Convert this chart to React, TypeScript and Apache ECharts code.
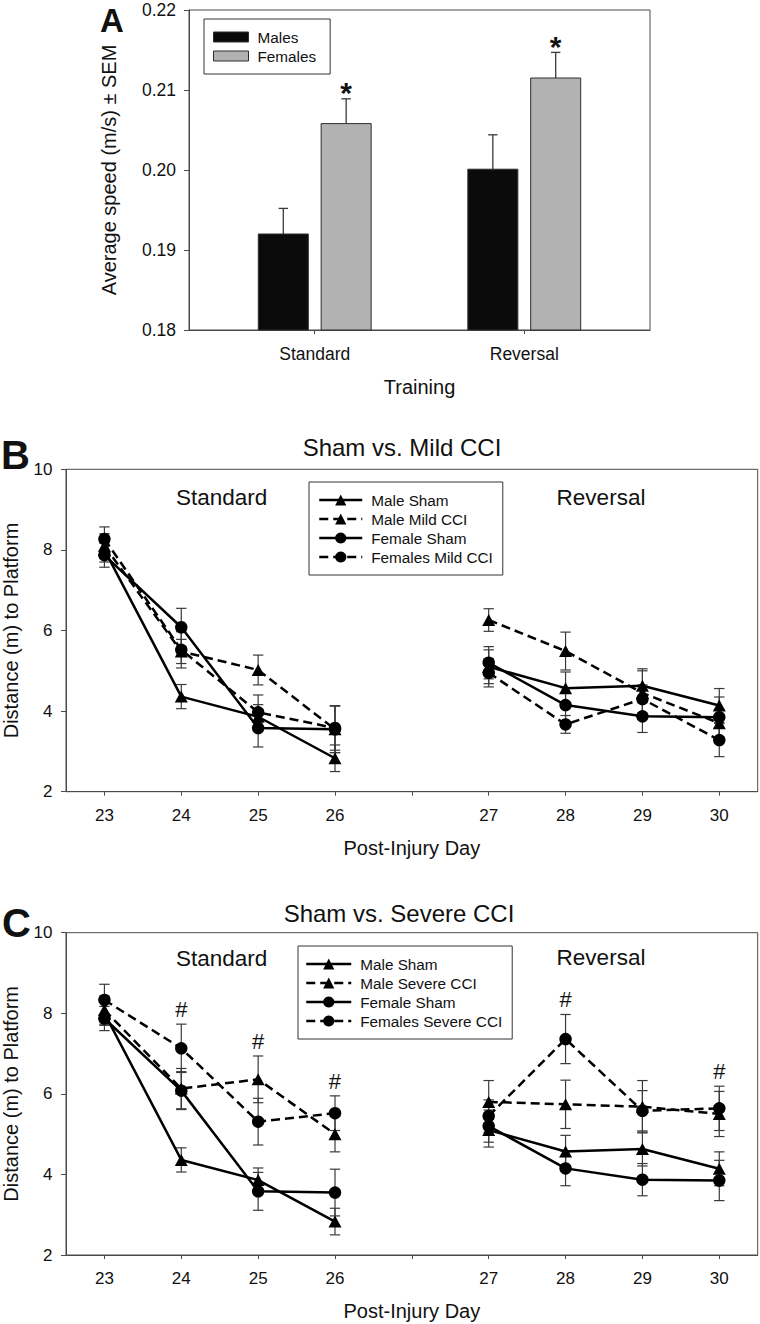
import React, { useEffect, useRef } from 'react';
import * as echarts from 'echarts';

// ---------- Panel A: average swim speed ----------
const TRAINING = ['Standard', 'Reversal'];
const MALE_SPEED = [0.192, 0.2001];
const MALE_SPEED_SEM = [0.0032, 0.0043];
const FEMALE_SPEED = [0.2058, 0.2115];
const FEMALE_SPEED_SEM = [0.0031, 0.0032];
const FEMALE_SIG = [1, 1]; // asterisk above female bars
const SPEED_MIN = 0.18;
const SPEED_MAX = 0.22;
const SPEED_STEP = 0.01;

// ---------- Panels B & C: distance to platform ----------
const DAYS = ['23', '24', '25', '26', '', '27', '28', '29', '30'];
const MALE_SHAM = [8.0, 4.36, 3.86, 2.83, null, 5.1, 4.57, 4.63, 4.14];
const MALE_SHAM_SEM = [0.3, 0.3, 0.3, 0.33, null, 0.42, 0.4, 0.42, 0.42];
const FEMALE_SHAM = [7.87, 6.08, 3.58, 3.55, null, 5.2, 4.15, 3.87, 3.85];
const FEMALE_SHAM_SEM = [0.3, 0.47, 0.47, 0.58, null, 0.4, 0.43, 0.4, 0.5];
const MALE_MILD = [8.1, 5.48, 5.02, 3.55, null, 6.26, 5.49, 4.45, 3.7];
const MALE_MILD_SEM = [0.3, 0.3, 0.37, 0.58, null, 0.28, 0.47, 0.55, 0.35];
const FEMALE_MILD = [8.27, 5.52, 3.97, 3.58, null, 4.95, 3.67, 4.3, 3.28];
const FEMALE_MILD_SEM = [0.3, 0.45, 0.43, 0.55, null, 0.35, 0.22, 0.35, 0.41];
const MALE_SEVERE = [8.08, 6.13, 6.36, 5.0, null, 5.8, 5.74, 5.68, 5.5];
const MALE_SEVERE_SEM = [0.35, 0.5, 0.58, 0.44, null, 0.53, 0.6, 0.65, 0.56];
const FEMALE_SEVERE = [8.33, 7.13, 5.31, 5.52, null, 5.45, 7.36, 5.58, 5.64];
const FEMALE_SEVERE_SEM = [0.39, 0.6, 0.58, 0.43, null, 0.4, 0.61, 0.5, 0.55];
const SEVERE_SIG_DAYS = ['24', '25', '26', '28', '30'];
const DIST_MIN = 2;
const DIST_MAX = 10;
const DIST_STEP = 2;

// ---------- styling ----------
const FONT = "'Liberation Sans', Arial, Helvetica, sans-serif";
const INK = '#111111';
const AXIS_C = '#4a4a4a';
const ERR_C = '#3a3a3a';
const MALE_FILL = '#0b0b0b';
const FEMALE_FILL = '#b2b2b2';
const BAR_EDGE = '#2e2e2e';
const BAR_W = 0.2387; // in x-axis units
const BAR_OFF = 0.15;
const DASH = [9, 5];

function txt(text: string, x: number, y: number, size: number, weight = 'normal', align = 'center') {
  return {
    type: 'text',
    silent: true,
    style: {
      text, x, y,
      fill: INK,
      fontSize: size,
      fontWeight: weight,
      fontFamily: FONT,
      font: `${weight} ${size}px ${FONT}`,
      align, textAlign: align,
      verticalAlign: 'middle', textVerticalAlign: 'middle',
    },
  };
}

function barRender(off: number, fill: string) {
  return (params: any, api: any) => {
    const x = api.value(0) + off;
    const v = api.value(1);
    const e = api.value(2);
    const sig = api.value(3);
    const base = api.coord([x, SPEED_MIN]);
    const top = api.coord([x, v]);
    const et = api.coord([x, v + e]);
    const half = api.size([BAR_W, 0])[0] / 2;
    const children: any[] = [
      { type: 'line', shape: { x1: top[0], y1: top[1], x2: top[0], y2: et[1] }, style: { stroke: ERR_C, lineWidth: 1.3 } },
      { type: 'line', shape: { x1: top[0] - 4.7, y1: et[1], x2: top[0] + 4.7, y2: et[1] }, style: { stroke: ERR_C, lineWidth: 1.3 } },
      { type: 'rect', shape: { x: top[0] - half, y: top[1], width: half * 2, height: base[1] - top[1] }, style: { fill, stroke: BAR_EDGE, lineWidth: 1 } },
    ];
    if (sig) {
      children.push({
        type: 'text',
        style: {
          text: '*', x: top[0], y: et[1] - 6,
          fill: INK, font: `bold 30px ${FONT}`, fontSize: 30, fontWeight: 'bold', fontFamily: FONT,
          align: 'center', textAlign: 'center', verticalAlign: 'middle', textVerticalAlign: 'middle',
        },
      });
    }
    return { type: 'group', children };
  };
}

function errRender(params: any, api: any) {
  const i = api.value(0);
  const m = api.value(1);
  const e = api.value(2);
  const hi = api.coord([i, m + e]);
  const lo = api.coord([i, m - e]);
  const x = hi[0];
  const c = 5.2;
  const st = { stroke: ERR_C, lineWidth: 1.2 };
  return {
    type: 'group',
    children: [
      { type: 'line', shape: { x1: x, y1: hi[1], x2: x, y2: lo[1] }, style: st },
      { type: 'line', shape: { x1: x - c, y1: hi[1], x2: x + c, y2: hi[1] }, style: st },
      { type: 'line', shape: { x1: x - c, y1: lo[1], x2: x + c, y2: lo[1] }, style: st },
    ],
  };
}

function errData(pairs: [ (number | null)[], (number | null)[] ][]) {
  const out: number[][] = [];
  pairs.forEach(([m, s]) => {
    m.forEach((v, i) => {
      if (v != null && s[i] != null) out.push([i, v, s[i] as number]);
    });
  });
  return out;
}

function lineSeries(name: string, data: (number | null)[], symbol: string, dashed: boolean, g: number) {
  return {
    type: 'line',
    name,
    xAxisIndex: g,
    yAxisIndex: g,
    data,
    symbol,
    symbolSize: symbol === 'triangle' ? [13, 12] : 12.5,
    connectNulls: false,
    z: 3,
    itemStyle: { color: '#000' },
    lineStyle: { color: '#000', width: 2.5, type: dashed ? DASH : 'solid' },
    emphasis: { disabled: true },
  };
}

function distX(g: number) {
  return {
    gridIndex: g,
    type: 'category',
    data: DAYS,
    boundaryGap: true,
    axisLine: { show: true, lineStyle: { color: AXIS_C, width: 1 } },
    axisTick: { show: true, alignWithLabel: true, interval: 0, length: 4, lineStyle: { color: AXIS_C } },
    axisLabel: { interval: 0, color: INK, fontFamily: FONT, fontSize: 17, margin: 15 },
    splitLine: { show: false },
    name: 'Post-Injury Day',
    nameLocation: 'middle',
    nameGap: 46,
    nameTextStyle: { color: INK, fontFamily: FONT, fontSize: 20 },
  };
}

function distY(g: number) {
  return {
    gridIndex: g,
    type: 'value',
    min: DIST_MIN,
    max: DIST_MAX,
    interval: DIST_STEP,
    axisLine: { show: true, lineStyle: { color: AXIS_C, width: 1 } },
    axisTick: { show: true, length: 5, lineStyle: { color: AXIS_C } },
    axisLabel: { color: INK, fontFamily: FONT, fontSize: 17, margin: 13.5 },
    splitLine: { show: false },
    name: 'Distance (m) to Platform',
    nameLocation: 'middle',
    nameGap: 45,
    nameTextStyle: { color: INK, fontFamily: FONT, fontSize: 20 },
  };
}

function distLegend(left: number, top: number, names: string[], itemWidth: number, padLeft: number) {
  return {
    orient: 'vertical',
    left,
    top,
    padding: [8.5, 10, 8.5, padLeft],
    itemWidth,
    itemHeight: 14,
    itemGap: 0,
    borderColor: '#333',
    borderWidth: 1,
    backgroundColor: '#fff',
    selectedMode: false,
    lineStyle: { width: 2.5 },
    textStyle: { color: INK, fontFamily: FONT, fontSize: 15.3, lineHeight: 19, padding: [0, 0, 0, 4] },
    data: names,
  };
}

const GRID_COMMON = {
  show: true,
  borderColor: AXIS_C,
  borderWidth: 1,
  backgroundColor: 'transparent',
  containLabel: false,
  outerBoundsMode: 'none',
};

function buildOption() {
  const severeAll: [(number | null)[], (number | null)[]][] = [
    [MALE_SHAM, MALE_SHAM_SEM], [MALE_SEVERE, MALE_SEVERE_SEM],
    [FEMALE_SHAM, FEMALE_SHAM_SEM], [FEMALE_SEVERE, FEMALE_SEVERE_SEM],
  ];
  const mildAll: [(number | null)[], (number | null)[]][] = [
    [MALE_SHAM, MALE_SHAM_SEM], [MALE_MILD, MALE_MILD_SEM],
    [FEMALE_SHAM, FEMALE_SHAM_SEM], [FEMALE_MILD, FEMALE_MILD_SEM],
  ];
  const sigData = SEVERE_SIG_DAYS.map((d) => {
    const i = DAYS.indexOf(d);
    let top = -Infinity;
    severeAll.forEach(([m, s]) => {
      if (m[i] != null) top = Math.max(top, (m[i] as number) + (s[i] as number));
    });
    return [i, top];
  });

  return {
    animation: false,
    backgroundColor: '#fff',
    grid: [
      { ...GRID_COMMON, left: 189, top: 10, width: 461, height: 320 },
      { ...GRID_COMMON, left: 66, top: 469.3, width: 691.7, height: 322.4 },
      { ...GRID_COMMON, left: 66, top: 932.7, width: 691.7, height: 322.3 },
    ],
    xAxis: [
      {
        gridIndex: 0,
        type: 'value',
        min: 0.4,
        max: 2.6,
        axisLine: { show: true, lineStyle: { color: AXIS_C, width: 1 } },
        axisTick: { show: true, customValues: [1, 2], length: 4, lineStyle: { color: AXIS_C } },
        axisLabel: {
          customValues: [1, 2],
          formatter: (v: number) => TRAINING[Math.round(v) - 1] ?? '',
          color: INK, fontFamily: FONT, fontSize: 17.5, margin: 15,
        },
        splitLine: { show: false },
        name: 'Training',
        nameLocation: 'middle',
        nameGap: 47,
        nameTextStyle: { color: INK, fontFamily: FONT, fontSize: 20 },
      },
      distX(1),
      distX(2),
    ],
    yAxis: [
      {
        gridIndex: 0,
        type: 'value',
        min: SPEED_MIN,
        max: SPEED_MAX,
        interval: SPEED_STEP,
        axisLine: { show: true, lineStyle: { color: AXIS_C, width: 1 } },
        axisTick: { show: true, length: 5, lineStyle: { color: AXIS_C } },
        axisLabel: { formatter: (v: number) => v.toFixed(2), color: INK, fontFamily: FONT, fontSize: 17.5, margin: 13 },
        splitLine: { show: false },
        name: 'Average speed (m/s) ± SEM',
        nameLocation: 'middle',
        nameGap: 70,
        nameTextStyle: { color: INK, fontFamily: FONT, fontSize: 20 },
      },
      distY(1),
      distY(2),
    ],
    legend: [
      {
        orient: 'vertical',
        left: 204,
        top: 19,
        padding: [8.5, 14, 8.5, 9],
        itemWidth: 35,
        itemHeight: 10,
        itemGap: 0,
        borderColor: '#333',
        borderWidth: 1,
        backgroundColor: '#fff',
        selectedMode: false,
        textStyle: { color: INK, fontFamily: FONT, fontSize: 15.3, lineHeight: 19, padding: [0, 0, 0, 4] },
        data: [
          { name: 'Males', icon: 'rect', itemStyle: { color: MALE_FILL, borderColor: BAR_EDGE, borderWidth: 1 } },
          { name: 'Females', icon: 'rect', itemStyle: { color: FEMALE_FILL, borderColor: BAR_EDGE, borderWidth: 1 } },
        ],
      },
      distLegend(309, 482, ['Male Sham', 'Male Mild CCI', 'Female Sham', 'Females Mild CCI'], 43, 9),
      distLegend(298, 946, ['Male Sham', 'Male Severe CCI', 'Female Sham', 'Females Severe CCI'], 45, 7),
    ],
    series: [
      // Panel A
      {
        type: 'custom',
        name: 'Males',
        xAxisIndex: 0,
        yAxisIndex: 0,
        encode: { x: 0, y: 1 },
        itemStyle: { color: MALE_FILL, borderColor: BAR_EDGE, borderWidth: 1 },
        data: TRAINING.map((_, i) => [i + 1, MALE_SPEED[i], MALE_SPEED_SEM[i], 0]),
        renderItem: barRender(-BAR_OFF, MALE_FILL),
      },
      {
        type: 'custom',
        name: 'Females',
        xAxisIndex: 0,
        yAxisIndex: 0,
        encode: { x: 0, y: 1 },
        itemStyle: { color: FEMALE_FILL, borderColor: BAR_EDGE, borderWidth: 1 },
        data: TRAINING.map((_, i) => [i + 1, FEMALE_SPEED[i], FEMALE_SPEED_SEM[i], FEMALE_SIG[i]]),
        renderItem: barRender(BAR_OFF, FEMALE_FILL),
      },
      // Panel B
      {
        type: 'custom', name: 'errB', xAxisIndex: 1, yAxisIndex: 1, z: 2,
        encode: { x: 0, y: 1 }, data: errData(mildAll), renderItem: errRender, silent: true,
      },
      lineSeries('Male Sham', MALE_SHAM, 'triangle', false, 1),
      lineSeries('Male Mild CCI', MALE_MILD, 'triangle', true, 1),
      lineSeries('Female Sham', FEMALE_SHAM, 'circle', false, 1),
      lineSeries('Females Mild CCI', FEMALE_MILD, 'circle', true, 1),
      // Panel C
      {
        type: 'custom', name: 'errC', xAxisIndex: 2, yAxisIndex: 2, z: 2,
        encode: { x: 0, y: 1 }, data: errData(severeAll), renderItem: errRender, silent: true,
      },
      lineSeries('Male Sham', MALE_SHAM, 'triangle', false, 2),
      lineSeries('Male Severe CCI', MALE_SEVERE, 'triangle', true, 2),
      lineSeries('Female Sham', FEMALE_SHAM, 'circle', false, 2),
      lineSeries('Females Severe CCI', FEMALE_SEVERE, 'circle', true, 2),
      {
        type: 'custom', name: 'sigC', xAxisIndex: 2, yAxisIndex: 2, z: 4, silent: true,
        encode: { x: 0, y: 1 }, data: sigData,
        renderItem: (params: any, api: any) => {
          const p = api.coord([api.value(0), api.value(1)]);
          return {
            type: 'text',
            style: {
              text: '#', x: p[0], y: p[1] - 14.5,
              fill: INK, font: `22px ${FONT}`, fontSize: 22, fontFamily: FONT,
              align: 'center', textAlign: 'center', verticalAlign: 'middle', textVerticalAlign: 'middle',
            },
          };
        },
      },
    ],
    graphic: [
      txt('A', 100, 20, 33, 'bold', 'left'),
      txt('B', 1, 454.5, 40, 'bold', 'left'),
      txt('C', 2, 922.5, 40, 'bold', 'left'),
      txt('Sham vs. Mild CCI', 402, 447, 24),
      txt('Sham vs. Severe CCI', 399, 913, 24),
      txt('Standard', 221.7, 497, 22.5),
      txt('Reversal', 601, 497, 22.5),
      txt('Standard', 221.7, 958, 22.5),
      txt('Reversal', 601, 957.5, 22.5),
    ],
  };
}

export default function App() {
  const ref = useRef<HTMLDivElement>(null);
  useEffect(() => {
    document.body.style.margin = '0';
    const chart = echarts.init(ref.current as HTMLDivElement, null, { renderer: 'svg' });
    chart.setOption(buildOption() as any);
    return () => chart.dispose();
  }, []);
  return (
    <div
      ref={ref}
      style={{ position: 'absolute', left: 0, top: 0, width: 760, height: 1324, background: '#fff' }}
    />
  );
}
